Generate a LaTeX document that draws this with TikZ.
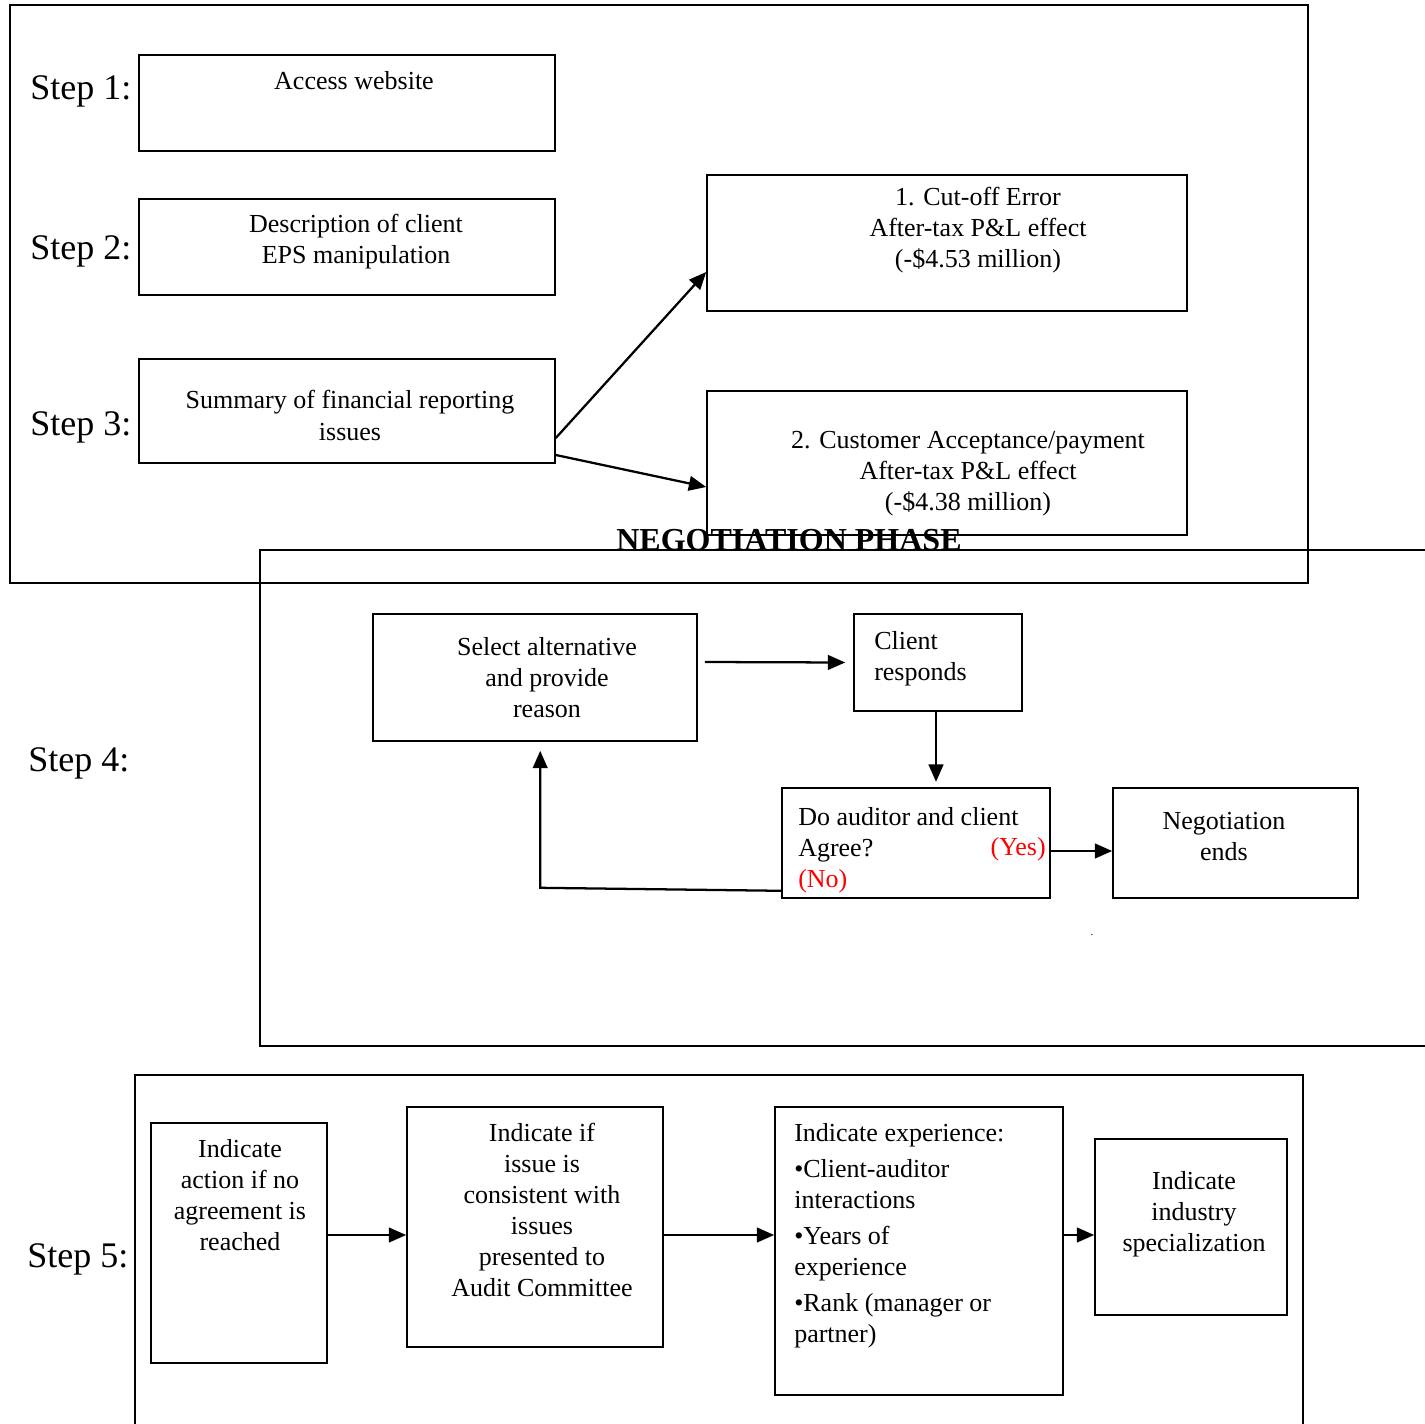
\documentclass[tikz,border=0pt]{standalone}
\usepackage{fontspec}
\setmainfont{Liberation Serif}
\usetikzlibrary{arrows.meta,fit}
\newcommand\pbc[1]{\parbox[t]{12cm}{\centering #1}}
\newcommand\pbl[1]{\parbox[t]{12cm}{\raggedright #1}}
\begin{document}
\begin{tikzpicture}[x=0.75pt,y=-0.75pt,
  boxst/.style={draw, line width=1.2pt, inner sep=0pt},
  arr/.style={line width=1.7pt, -{Triangle[length=13pt,width=11pt]}},
  txt/.style={inner sep=0pt, font=\fontsize{19.5pt}{23.25pt}\selectfont},
  steplbl/.style={inner sep=0pt, anchor=base west, font=\fontsize{27pt}{32pt}\selectfont},
  red/.style={text=red}]
\clip (0,0) rectangle (1425,1424);
\fill[white] (0,0) rectangle (1425,1424);

% frames
\node[fit={(10,5) (1308,583)}, boxst] (fr1) {};
\node[fit={(260,550) (1445,1046)}, boxst] (fr2) {};
\node[fit={(135,1075) (1303,1445)}, boxst] (fr3) {};

% step labels
\node[steplbl] (l1) at (30,99) {Step 1:};
\node[steplbl] (l2) at (30,259) {Step 2:};
\node[steplbl] (l3) at (30,435) {Step 3:};
\node[steplbl] (l4) at (28,771) {Step 4:};
\node[steplbl] (l5) at (27,1267) {Step 5:};

% boxes
\node[fit={(139,55) (555,151)}, boxst] (s1) {};
\node[fit={(139,199) (555,295)}, boxst] (s2) {};
\node[fit={(139,359) (555,463)}, boxst] (s3) {};
\node[fit={(707,175) (1187,311)}, boxst] (c1) {};
\node[fit={(707,391) (1187,535)}, boxst] (c2) {};
\node[fit={(373,614) (697,741)}, boxst] (sel) {};
\node[fit={(854,614) (1022,711)}, boxst] (cr) {};
\node[fit={(782,788) (1050,898)}, boxst] (da) {};
\node[fit={(1113,788) (1358,898)}, boxst] (ne) {};
\node[fit={(151,1123) (327,1363)}, boxst] (bA) {};
\node[fit={(407,1107) (663,1347)}, boxst] (bB) {};
\node[fit={(775,1107) (1063,1395)}, boxst] (bC) {};
\node[fit={(1095,1139) (1287,1315)}, boxst] (bD) {};

% texts
\node[txt, anchor=base] (t1) at (354,89) {\pbc{Access website}};
\node[txt, anchor=base] (t2) at (356,232) {\pbc{Description of client\\EPS manipulation}};
\node[txt, anchor=base] (t3) at (350,408) {\pbc{Summary of financial reporting\\[0.75pt]issues}};
\node[txt, anchor=base] (tc1) at (978,205) {\pbc{1. Cut-off Error\\After-tax P\&L effect\\(-\$4.53 million)}};
\node[txt, anchor=base] (tc2) at (968,448) {\pbc{2. Customer Acceptance/payment\\After-tax P\&L effect\\(-\$4.38 million)}};
\node[inner sep=0pt, anchor=base, font=\bfseries\fontsize{24pt}{28pt}\selectfont] (neg) at (789,550) {NEGOTIATION PHASE};
\node[txt, anchor=base] (tsel) at (547,655) {\pbc{Select alternative\\and provide\\reason}};
\node[txt, anchor=base west] (tcr) at (874,649) {\pbl{Client\\responds}};
\node[txt, anchor=base west] (tda) at (798,825) {\pbl{Do auditor and client\\Agree?\\\textcolor{red}{(No)}}};
\node[txt, red, anchor=base east] (tyes) at (1046,855) {(Yes)};
\node[txt, anchor=base] (tne) at (1224,829) {\pbc{Negotiation\\ends}};
\node[txt, anchor=base] (dot) at (1092,935) {\fontsize{8pt}{8pt}\selectfont .};
\node[txt, anchor=base] (tA) at (240,1157) {\pbc{Indicate\\action if no\\agreement is\\reached}};
\node[txt, anchor=base] (tB) at (542,1141) {\pbc{Indicate if\\issue is\\consistent with\\issues\\presented to\\Audit Committee}};
\node[txt, anchor=base west] (tC) at (794,1141) {\pbl{Indicate experience:\\[3.75pt]•Client-auditor\\interactions\\[3.75pt]•Years of\\experience\\[3.75pt]•Rank (manager or\\partner)}};
\node[txt, anchor=base] (tD) at (1194,1189) {\pbc{Indicate\\industry\\specialization}};

% connectors
\draw[arr] ([yshift=-20.25pt]s3.east) -- ([yshift=-21.75pt]c1.west);
\draw[arr] ([yshift=-33pt]s3.east) -- ([yshift=-18pt]c2.west);
\draw[arr] ([shift={(7,-15.5)}]sel.east) -- ([shift={(-8,0)}]cr.west);
\draw[arr] ([xshift=-1.5pt]cr.south) -- ++(0,70);
\draw[arr] ([yshift=-6pt]da.east) -- ([yshift=-6pt]ne.west);
\draw[arr] ([yshift=6pt]da.south west) -- ++(-241,-3) -- ++(0,-137);
\draw[arr] ([yshift=6pt]bA.east) -- ([yshift=-6pt]bB.west);
\draw[arr] ([yshift=-6pt]bB.east) -- ([yshift=12pt]bC.west);
\draw[arr] ([yshift=12pt]bC.east) -- ([yshift=-6pt]bD.west);
\end{tikzpicture}
\end{document}
